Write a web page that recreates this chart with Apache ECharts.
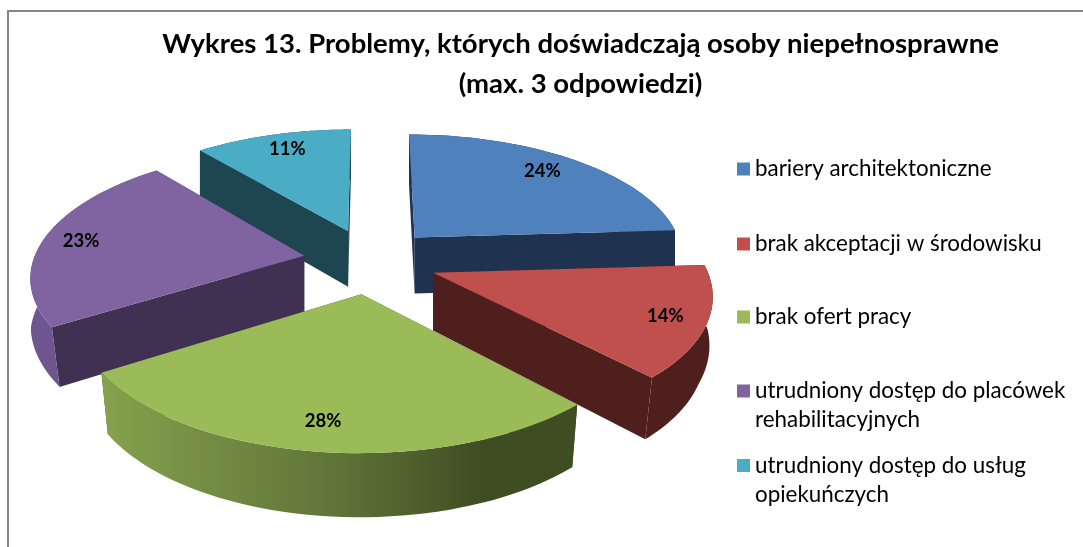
<!DOCTYPE html>
<html>
<head>
<meta charset="utf-8">
<style>
  html, body { margin: 0; padding: 0; background: #fff; }
  #chart { width: 1083px; height: 547px; }
</style>
<script src="https://cdn.jsdelivr.net/npm/echarts@6/dist/echarts.min.js"></script>
</head>
<body>
<div id="chart"></div>
<script>
  var categories = [
    'bariery architektoniczne',
    'brak akceptacji w środowisku',
    'brak ofert pracy',
    'utrudniony dostęp do placówek\nrehabilitacyjnych',
    'utrudniony dostęp do usług\nopiekuńczych'
  ]
  var values = [24, 14, 28, 23, 11]
  var titleText = 'Wykres 13. Problemy, których doświadczają osoby niepełnosprawne\n(max. 3 odpowiedzi)'

  var topColors = ['#4f81bd', '#c0504d', '#9bbb59', '#8064a2', '#4bacc6']
  var sideColors = ['#1f3350', '#4f1f1d', '#3f4d22', '#403152', '#1e4651']
  // rim shading, only the green and purple slices show it
  var rimStops = [
    null,
    null,
    [[0, '#85a24d'], [0.5, '#5f7338'], [0.8, '#3f4d22'], [1, '#3f4d22']],
    [[0, '#6f5690'], [1, '#6a5289']],
    null
  ]
  var drawOrder = [1, 3, 4, 2, 0] // z of each slice, back to front
  var labelNudge = [[-8, 0], [4, 2], [-3, -2], [-5, 1], [4, 0]]

  // projection of the tilted pie
  var pie = {
    cx: 370, cy: 260.7,
    rx: 271, ry: 124.5,
    explodeX: 67, explodeY: 32.6,
    k: 0.00118,
    labelAt: 0.84
  }

  var total = values.reduce(function (a, b) { return a + b }, 0)

  function project(x, y) {
    var w = 1 - pie.k * y
    return [pie.cx + x / w, pie.cy + y / w, y]
  }

  // the same point on the underside of the slice
  function lower(p) {
    var shrink = 0.024 * Math.min(1, Math.max(0, (p[2] - 10) / 50))
    return [pie.cx + (p[0] - pie.cx) * (1 - shrink), p[1] + 57 + 0.045 * p[2]]
  }

  function sliceShapes(index) {
    var before = 0
    for (var i = 0; i < index; i++) before += values[i]
    var t0 = before / total * Math.PI * 2
    var t1 = (before + values[index]) / total * Math.PI * 2
    var mid = (t0 + t1) / 2
    var ox = Math.sin(mid) * pie.explodeX
    var oy = -Math.cos(mid) * pie.explodeY

    function rim(t, f) {
      return project(ox + Math.sin(t) * pie.rx * f, oy - Math.cos(t) * pie.ry * f)
    }

    var apex = project(ox, oy)
    var arc = []
    var n = 48
    for (var s = 0; s <= n; s++) arc.push(rim(t0 + (t1 - t0) * s / n, 1))
    var arcLow = arc.map(lower).reverse()

    var rimFill = sideColors[index]
    if (rimStops[index]) {
      rimFill = new echarts.graphic.LinearGradient(0, 0, 1, 0, rimStops[index].map(function (st) {
        return { offset: st[0], color: st[1] }
      }))
    }

    var first = arc[0]
    var last = arc[n]
    var faces = [
      [apex, first, lower(first), lower(apex)],
      [apex, last, lower(last), lower(apex)]
    ]

    var children = faces.map(function (pts) {
      return {
        type: 'polygon',
        shape: { points: pts.map(function (p) { return [p[0], p[1]] }) },
        style: { fill: sideColors[index] }
      }
    })
    children.push({
      type: 'polygon',
      shape: { points: arc.map(function (p) { return [p[0], p[1]] }).concat(arcLow) },
      style: { fill: rimFill }
    })
    children.push({
      type: 'polygon',
      shape: { points: [[apex[0], apex[1]]].concat(arc.map(function (p) { return [p[0], p[1]] })) },
      style: { fill: topColors[index] }
    })
    var lp = rim(mid, pie.labelAt)
    children.push({
      type: 'text',
      x: lp[0] + labelNudge[index][0],
      y: lp[1] + labelNudge[index][1],
      style: {
        text: Math.round(values[index] / total * 100) + '%',
        fill: '#000',
        font: 'bold 18.5px Lato',
        align: 'center',
        verticalAlign: 'middle'
      }
    })
    return children
  }

  var legendTops = [154.5, 229.5, 302.5, 347.5, 422]

  var option = {
    animation: false,
    backgroundColor: '#fff',
    title: {
      text: titleText,
      left: 575.5,
      top: 19,
      textAlign: 'center',
      textStyle: {
        fontFamily: 'Lato',
        fontWeight: 'bold',
        fontSize: 27.5,
        lineHeight: 40,
        color: '#000'
      }
    },
    legend: categories.map(function (name, i) {
      return {
        data: [name],
        left: 737,
        top: legendTops[i],
        padding: 0,
        icon: 'rect',
        itemWidth: 13,
        itemHeight: 13,
        itemGap: 0,
        selectedMode: false,
        // blank first line keeps the swatch level with the first text line
        formatter: function (n) {
          return n.indexOf('\n') >= 0 ? '\n' + n : n
        },
        textStyle: {
          fontFamily: 'Lato',
          fontSize: 22.4,
          lineHeight: 29,
          color: '#000'
        }
      }
    }),
    graphic: [{
      type: 'rect',
      silent: true,
      shape: { x: 8, y: 11, width: 1300, height: 800 },
      style: { fill: 'none', stroke: '#868686', lineWidth: 2 }
    }],
    series: categories.map(function (name, i) {
      return {
        name: name,
        type: 'custom',
        coordinateSystem: 'none',
        silent: true,
        z: 2 + drawOrder[i],
        itemStyle: { color: topColors[i] },
        data: [values[i]],
        renderItem: function () {
          return { type: 'group', children: sliceShapes(i) }
        }
      }
    })
  }

  var chart = echarts.init(document.getElementById('chart'))
  chart.setOption(option)
</script>
</body>
</html>
